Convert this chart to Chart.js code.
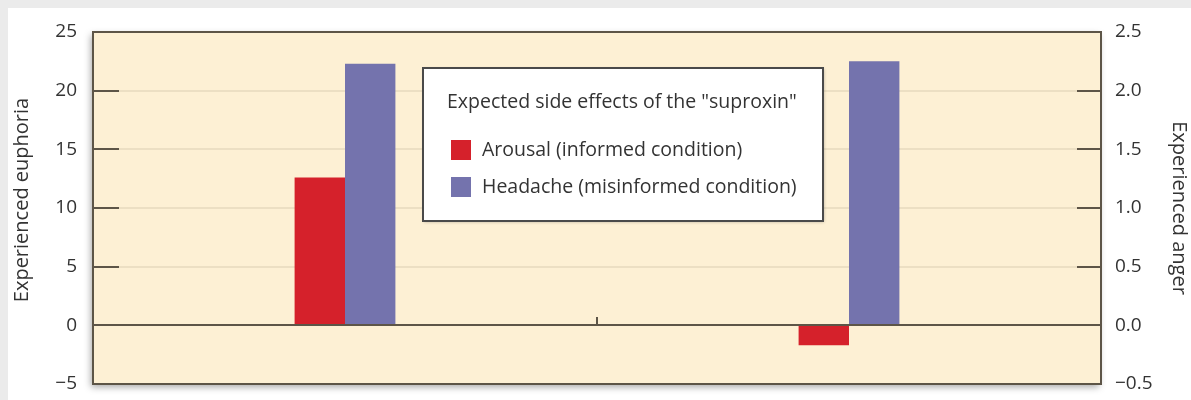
<!DOCTYPE html>
<html lang="en">
<head>
<meta charset="UTF-8">
<title>Expected side effects of the "suproxin"</title>
<script src="https://cdn.jsdelivr.net/npm/chart.js"></script>
<style>
  html, body { margin: 0; padding: 0; background: #ebebeb; overflow: hidden; }
  .card { position: absolute; left: 8px; top: 8px; right: 0; bottom: 0; background: #fff; }
  .wrap { position: absolute; left: 0; top: 0; width: 1191px; height: 400px; }
</style>
</head>
<body>
<div class="card"></div>
<div class="wrap"><canvas id="chart" width="1191" height="400"></canvas></div>
<script>
  // data
  const groups = ['Experienced euphoria', 'Experienced anger'];
  const arousal = [12.6, -0.17];   // informed condition
  const headache = [22.3, 2.25];   // misinformed condition
  const euphoriaTicks = [-5, 0, 5, 10, 15, 20, 25];
  const angerTicks = [-0.5, 0, 0.5, 1, 1.5, 2, 2.5];
  const legendTitle = 'Expected side effects of the "suproxin"';
  const seriesNames = ['Arousal (informed condition)', 'Headache (misinformed condition)'];

  const RED = '#d5212b';
  const BLUE = '#7473ad';
  const FONT = '"Open Sans", "Noto Sans", sans-serif';
  const TEXT = '#333333';
  const FRAME = '#5d5547';

  const minus = v => (v < 0 ? '\u2212' + Math.abs(v) : '' + v);

  // first group uses left axis, second group right axis
  const datasets = [
    { data: [arousal[0], null], yAxisID: 'y', backgroundColor: RED },
    { data: [headache[0], null], yAxisID: 'y', backgroundColor: BLUE },
    { data: [null, arousal[1]], yAxisID: 'y1', backgroundColor: RED },
    { data: [null, headache[1]], yAxisID: 'y1', backgroundColor: BLUE }
  ].map(d => Object.assign(d, {
    skipNull: true,
    categoryPercentage: 0.2,
    barPercentage: 1,
    borderWidth: 0
  }));

  const framePlugin = {
    id: 'frame',
    beforeDraw(chart) {
      const { ctx, chartArea: a } = chart;
      ctx.save();
      ctx.shadowColor = 'rgba(0,0,0,0.35)';
      ctx.shadowBlur = 7;
      ctx.shadowOffsetX = -2;
      ctx.shadowOffsetY = 3;
      ctx.fillStyle = '#fdf0d4';
      ctx.fillRect(a.left, a.top, a.right - a.left, a.bottom - a.top);
      ctx.restore();
    },
    afterDatasetsDraw(chart) {
      const { ctx, chartArea: a, scales } = chart;
      const y = scales.y, x = scales.x;
      ctx.save();
      ctx.strokeStyle = FRAME;
      ctx.lineWidth = 2;

      // zero line
      const y0 = Math.round(y.getPixelForValue(0));
      ctx.beginPath();
      ctx.moveTo(a.left, y0);
      ctx.lineTo(a.right, y0);
      ctx.stroke();

      // small tick between the two groups
      const mid = (x.getPixelForValue(0) + x.getPixelForValue(1)) / 2;
      ctx.beginPath();
      ctx.moveTo(mid, y0);
      ctx.lineTo(mid, y0 - 8);
      ctx.stroke();

      // inner tick marks on both sides
      euphoriaTicks.forEach(v => {
        const py = Math.round(y.getPixelForValue(v));
        ctx.beginPath();
        ctx.moveTo(a.left, py);
        ctx.lineTo(a.left + 26, py);
        ctx.moveTo(a.right - 24, py);
        ctx.lineTo(a.right, py);
        ctx.stroke();
      });

      // frame
      ctx.strokeRect(a.left, a.top, a.right - a.left, a.bottom - a.top);

      // axis titles
      ctx.fillStyle = TEXT;
      ctx.font = '20px ' + FONT;
      ctx.textAlign = 'center';
      ctx.textBaseline = 'middle';
      ctx.save();
      ctx.translate(22, 200);
      ctx.rotate(-Math.PI / 2);
      ctx.fillText(groups[0], 0, 0);
      ctx.restore();
      ctx.save();
      ctx.translate(1179, 208);
      ctx.rotate(Math.PI / 2);
      ctx.fillText(groups[1], 0, 0);
      ctx.restore();

      // legend box
      const lx = a.left + 330, ly = a.top + 36, lw = 400, lh = 153;
      ctx.save();
      ctx.shadowColor = 'rgba(0,0,0,0.25)';
      ctx.shadowBlur = 3;
      ctx.shadowOffsetX = 1;
      ctx.shadowOffsetY = 1;
      ctx.fillStyle = '#fff';
      ctx.fillRect(lx, ly, lw, lh);
      ctx.restore();
      ctx.strokeStyle = '#4a4a4a';
      ctx.lineWidth = 2;
      ctx.strokeRect(lx, ly, lw, lh);

      ctx.fillStyle = TEXT;
      ctx.textAlign = 'left';
      ctx.font = '19.5px ' + FONT;
      ctx.fillText(legendTitle, lx + 24, ly + 34);
      [RED, BLUE].forEach((c, i) => {
        const ry = ly + 72 + i * 37;
        ctx.fillStyle = c;
        ctx.fillRect(lx + 28, ry, 20, 20);
        ctx.fillStyle = TEXT;
        ctx.fillText(seriesNames[i], lx + 59, ry + 10);
      });
      ctx.restore();
    }
  };

  // fixed axis widths, no extra label padding top/bottom
  const fixAxis = w => s => { s.width = w; s.paddingTop = 0; s.paddingBottom = 0; };

  new Chart(document.getElementById('chart'), {
    type: 'bar',
    data: { labels: groups, datasets },
    options: {
      responsive: false,
      animation: false,
      layout: { padding: { top: 32, bottom: 16, left: 0, right: 0 } },
      plugins: { legend: { display: false }, tooltip: { enabled: false } },
      scales: {
        x: { display: false },
        y: {
          position: 'left',
          min: euphoriaTicks[0],
          max: euphoriaTicks[euphoriaTicks.length - 1],
          afterBuildTicks: s => { s.ticks = euphoriaTicks.map(v => ({ value: v })); },
          afterFit: fixAxis(93),
          grid: { color: '#ecdfc3', lineWidth: 2, drawTicks: false },
          border: { display: false },
          ticks: { padding: 16, color: TEXT, font: { size: 19, family: FONT }, callback: v => minus(v) }
        },
        y1: {
          position: 'right',
          min: angerTicks[0],
          max: angerTicks[angerTicks.length - 1],
          afterBuildTicks: s => { s.ticks = angerTicks.map(v => ({ value: v })); },
          afterFit: fixAxis(90),
          grid: { drawOnChartArea: false, drawTicks: false },
          border: { display: false },
          ticks: { padding: 14, color: TEXT, font: { size: 19, family: FONT }, callback: v => minus(v.toFixed(1)) }
        }
      }
    },
    plugins: [framePlugin]
  });
</script>
</body>
</html>
